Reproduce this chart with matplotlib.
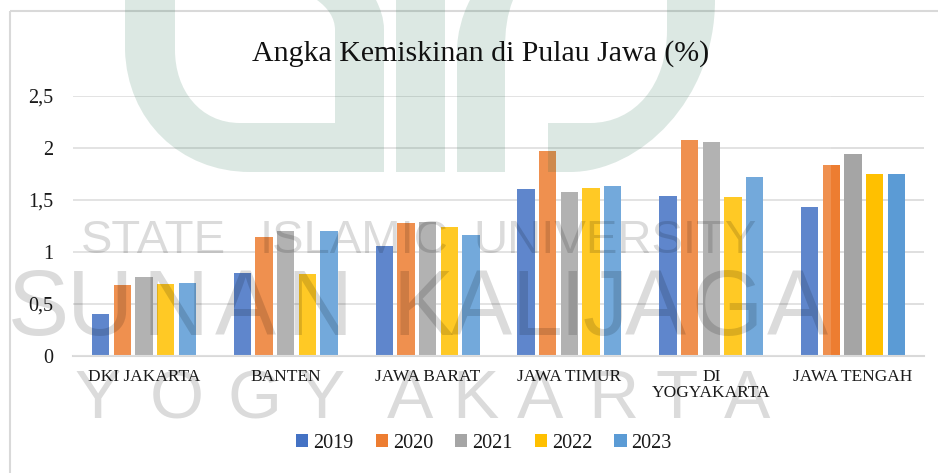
import matplotlib
matplotlib.use('Agg')
import matplotlib.pyplot as plt
import numpy as np
from matplotlib.path import Path
from matplotlib.patches import PathPatch, Rectangle
from matplotlib.transforms import Affine2D

W, H = 938, 473

provinces = ['DKI JAKARTA', 'BANTEN', 'JAWA BARAT', 'JAWA TIMUR', 'DI\nYOGYAKARTA', 'JAWA TENGAH']
years = ['2019', '2020', '2021', '2022', '2023']
v2019 = [0.40, 0.80, 1.06, 1.61, 1.54, 1.43]
v2020 = [0.68, 1.14, 1.28, 1.97, 2.08, 1.84]
v2021 = [0.76, 1.20, 1.29, 1.58, 2.06, 1.94]
v2022 = [0.69, 0.79, 1.24, 1.62, 1.53, 1.75]
v2023 = [0.70, 1.20, 1.16, 1.63, 1.72, 1.75]
y_ticks = [0, 0.5, 1, 1.5, 2, 2.5]
y_labels = ['0', '0,5', '1', '1,5', '2', '2,5']

colors = ['#4472C4', '#ED7D31', '#A5A5A5', '#FFC000', '#5B9BD5']
grid_c = '#d9d9d9'
text_c = '#1a1a1a'

plt.rcParams['font.family'] = ['Liberation Serif', 'DejaVu Serif']
fig = plt.figure(figsize=(W / 100, H / 100), dpi=100, facecolor='white')
ax = fig.add_axes([73 / W, (H - 356) / H, 851 / W, 260 / H])

# pixel coords of the reference, y down
px = Affine2D().scale(1 / W, -1 / H).translate(0, 1) + fig.transFigure

x = np.arange(len(provinces))
pitch = 0.153
width = 0.122
all_vals = [v2019, v2020, v2021, v2022, v2023]
for i in range(5):
    ax.bar(x + (i - 2) * pitch, all_vals[i], width, color=colors[i], label=years[i], zorder=2)

ax.set_xlim(-0.5, 5.5)
ax.set_ylim(0, 2.5)
ax.set_xticks(x)
ax.set_xticklabels(provinces, fontsize=12.5, color=text_c, linespacing=1.05)
ax.set_yticks(y_ticks)
ax.set_yticklabels(y_labels, fontsize=14.5, color=text_c)
ax.tick_params(axis='x', length=0, pad=9)
ax.tick_params(axis='y', length=0, pad=14)
ax.grid(axis='y', color=grid_c, linewidth=1.2, zorder=0)
ax.set_axisbelow(True)
for s in ['top', 'left', 'right']:
    ax.spines[s].set_visible(False)
ax.spines['bottom'].set_color(grid_c)
ax.spines['bottom'].set_linewidth(1.5)

# watermark haze over the bars, stops before the last group ends
ax.add_patch(Rectangle((73, 96), 758, 260, transform=px, color='white', alpha=0.15, lw=0, zorder=3))

fig.text(481 / W, 1 - 61 / H, 'Angka Kemiskinan di Pulau Jawa (%)', fontsize=21.5, color='#111111',
         ha='center', va='baseline')

ax.legend(loc='center', bbox_to_anchor=(484 / W, 1 - 443 / H), bbox_transform=fig.transFigure, ncol=5,
          frameon=False, fontsize=14.5, handlelength=0.6, handleheight=0.6, handletextpad=0.25,
          columnspacing=1.1, labelcolor=text_c)

# chart frame
fig.add_artist(Rectangle((9.5, 11), 1000, 600, transform=px, fill=False, edgecolor=grid_c, linewidth=1.5))

# logo watermark
M, L, C, Z = Path.MOVETO, Path.LINETO, Path.CURVE4, Path.CLOSEPOLY
logo_c = (0.085, 0.4, 0.27)
shapes = [
    ([(125, 0), (125, 50), (127, 120), (180, 172), (250, 172), (384, 172), (384, 30), (384, 18), (380, 8), (376, 0),
      (317, 0), (328, 8), (335, 18), (335, 30), (335, 123), (240, 123), (200, 123), (175, 90), (175, 50), (175, 0),
      (125, 0)],
     [M, L, C, C, C, L, L, C, C, C, L, C, C, C, L, L, C, C, C, L, Z]),
    ([(396, 0), (445, 0), (445, 172), (396, 172), (396, 0)], [M, L, L, L, Z]),
    ([(457, 172), (457, 50), (457, 35), (462, 15), (470, 0), (513, 0), (507, 15), (505, 30), (505, 50), (505, 172),
      (457, 172)],
     [M, L, C, C, C, L, C, C, C, L, Z]),
    ([(548, 172), (548, 123), (590, 123), (635, 123), (667, 85), (667, 30), (667, 0), (715, 0), (715, 100), (640, 172),
      (570, 172), (548, 172)],
     [M, L, L, C, C, C, L, L, C, C, C, Z]),
]
for verts, codes in shapes:
    fig.add_artist(PathPatch(Path(verts, codes), transform=px, facecolor=logo_c, edgecolor='none', alpha=0.15))

# text watermark
wm = dict(family='Liberation Sans', color='black', alpha=0.14, ha='center', va='baseline')
for word, cx in [('STATE', 153), ('ISLAMIC', 354), ('UNIVERSITY', 615)]:
    fig.text(cx / W, 1 - 253 / H, word, fontsize=34, **wm)
for ch, cx in zip('SUNANKALIJAGA', [38, 100, 176, 245, 320, 423, 481, 537, 572, 605, 655, 727, 797]):
    fig.text(cx / W, 1 - 335 / H, ch, fontsize=66, **wm)
for ch, cx in zip('YOGYAKARTA', [98, 177, 255, 322, 410, 475, 540, 613, 677, 747]):
    fig.text(cx / W, 1 - 418 / H, ch, fontsize=50, **wm)

plt.savefig('out.png', dpi=100)
